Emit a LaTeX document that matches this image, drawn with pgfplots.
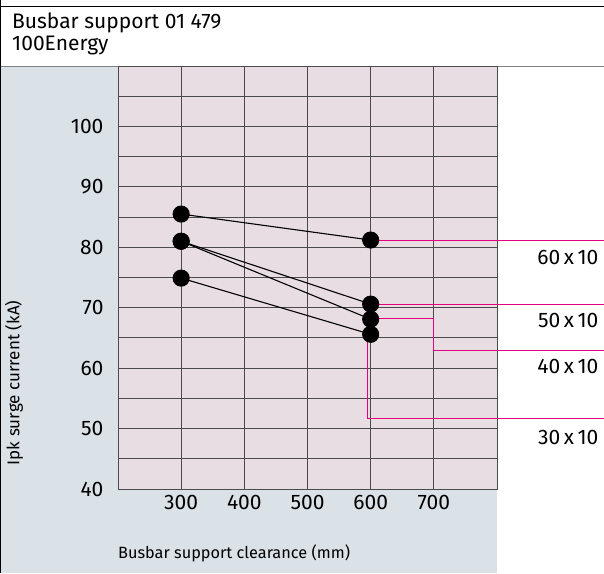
\documentclass[border=0pt]{standalone}
\usepackage{fontspec}
\setmainfont{Fira Sans}
\usepackage{pgfplots}
\pgfplotsset{compat=1.18}
\definecolor{panel}{HTML}{DAE1E7}
\definecolor{plotbg}{HTML}{E7DDE3}
\definecolor{lead}{HTML}{E5007D}
\definecolor{gridc}{HTML}{4A4A4A}
\newcommand{\lbl}{\fontsize{21}{24}\selectfont}
\begin{document}
\begin{tikzpicture}
\path[use as bounding box] (0,0) rectangle (604pt,-573pt);
% frame and panels
\fill[panel] (0,-66pt) rectangle (497pt,-573pt);
\draw[black, line width=1pt] (0,-6pt) -- (604pt,-6pt);
\draw[gray, line width=1pt] (0,-66pt) -- (604pt,-66pt);
\draw[black, line width=1pt] (0.5pt,0) -- (0.5pt,-573pt);
\node[anchor=north west, align=left, font=\fontsize{21}{22}\selectfont, inner sep=0pt] at (12pt,-13pt) {Busbar support 01 479\\100Energy};
\begin{axis}[
  at={(118pt,-489pt)}, anchor=south west,
  scale only axis, width=379pt, height=423pt,
  xmin=200, xmax=800, ymin=40, ymax=110,
  xtick={300,400,...,700}, ytick={40,50,...,100},
  minor ytick={45,55,...,105},
  grid=both,
  major grid style={gridc, line width=0.9pt},
  minor grid style={gridc, line width=0.9pt},
  axis background/.style={fill=plotbg},
  major tick length=0pt, minor tick length=0pt,
  axis line style={gridc, line width=0.9pt},
  clip=false,
  ticklabel style={font=\lbl},
  /pgf/number format/assume math mode=true,
  xticklabel style={yshift=-3pt},
  yticklabel style={xshift=-11pt},
]
% 60x10
\addplot[black, line width=1.1pt, mark=*, mark size=8pt] coordinates {(300,85.5) (600,81.2)};
% 50x10
\addplot[black, line width=1.1pt, mark=*, mark size=8pt] coordinates {(300,81.0) (600,70.6)};
% 40x10
\addplot[black, line width=1.1pt, mark=*, mark size=8pt] coordinates {(300,81.0) (600,68.1)};
% 30x10
\addplot[black, line width=1.1pt, mark=*, mark size=8pt] coordinates {(300,74.9) (600,65.6)};
% leader lines
\draw[lead, line width=1pt] (axis cs:610,81.2) -- (axis cs:970,81.2);
\draw[lead, line width=1pt] (axis cs:610,70.6) -- (axis cs:970,70.6);
\draw[lead, line width=1pt] (axis cs:610,68.2) -- (axis cs:700,68.2) -- (axis cs:700,63.0) -- (axis cs:970,63.0);
\draw[lead, line width=1pt] (axis cs:595,65) -- (axis cs:595,51.6) -- (axis cs:970,51.6);
\node[anchor=east, font=\lbl] at (axis cs:966,78.3) {60\,x\,10};
\node[anchor=east, font=\lbl] at (axis cs:966,67.9) {50\,x\,10};
\node[anchor=east, font=\lbl] at (axis cs:966,60.2) {40\,x\,10};
\node[anchor=east, font=\lbl] at (axis cs:966,48.5) {30\,x\,10};
\end{axis}
\node[rotate=90, font=\fontsize{17}{20}\selectfont] at (14pt,-383pt) {Ipk surge current (kA)};
\node[anchor=west, font=\fontsize{16.3}{19}\selectfont, inner sep=0pt] at (118pt,-553pt) {Busbar support clearance (mm)};
\end{tikzpicture}
\end{document}
